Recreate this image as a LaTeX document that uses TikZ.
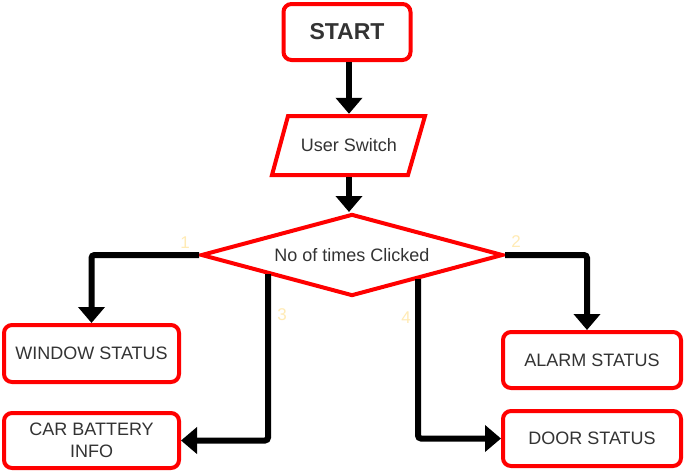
\documentclass[tikz,border=0pt]{standalone}
\usepackage{fontspec}
\setmainfont{Liberation Sans}
\usetikzlibrary{shapes.geometric,arrows.meta}
\definecolor{boxred}{HTML}{FF0000}
\definecolor{txt}{HTML}{333333}
\definecolor{lbl}{HTML}{FFEBB5}
\begin{document}
\begin{tikzpicture}[x=1pt,y=-1pt,
  boxst/.style={draw=boxred,line width=4pt,rounded corners=8pt,fill=white,text=txt,font=\fontsize{18}{21}\selectfont,align=center,inner sep=0pt},
  conn/.style={line width=6pt,black,rounded corners=3pt,-{Triangle[length=16pt,width=26pt]}},
  redline/.style={draw=boxred,line width=4pt,fill=white,line join=miter},
  numlbl/.style={text=lbl,font=\fontsize{17}{20}\selectfont,inner sep=0pt}]
\useasboundingbox (0,0) rectangle (686,475);
\fill[white] (0,0) rectangle (686,475);
% nodes
\node[boxst,minimum width=127pt,minimum height=56pt,font=\fontsize{23}{27}\selectfont\bfseries] (s) at (347,32) {START};
\draw[redline] (288,116) -- (425,116) -- (408,175) -- (272,175) -- cycle;
\node[text=txt,font=\fontsize{18}{21}\selectfont,minimum width=150pt,minimum height=63pt,inner sep=0pt] (u) at (349,145.5) {User Switch};
\node[diamond,aspect=3.64,draw=boxred,line width=4pt,fill=white,text=txt,font=\fontsize{18}{21}\selectfont,minimum width=302pt,minimum height=82pt,inner sep=0pt] (d) at (352,255) {No of times Clicked};
\node[boxst,minimum width=175pt,minimum height=57pt] (w) at (91.5,353.5) {WINDOW STATUS};
\node[boxst,minimum width=178pt,minimum height=56pt] (a) at (592,360) {ALARM STATUS};
\node[boxst,minimum width=175pt,minimum height=55pt] (cb) at (91.5,440.5) {CAR BATTERY\\[1pt]INFO};
\node[boxst,minimum width=178pt,minimum height=55pt] (dr) at (592,438.5) {DOOR STATUS};
% connectors
\draw[conn] (s.south -| u.north) -- (u.north);
\draw[conn] (u.south) -- (u.south |- d.north);
\draw[conn] (d.west) -| (w.north);
\draw[conn] (d.east) -| ([xshift=-5pt]a.north);
\coordinate (c3) at (268,274);
\coordinate (c4) at (418,279);
\draw[conn] (c3) |- (cb.east);
\draw[conn] (c4) |- (dr.west);
% labels
\node[numlbl] (l1) at (185,243) {1};
\node[numlbl] (l2) at (516,242) {2};
\node[numlbl] (l3) at (282,315) {3};
\node[numlbl] (l4) at (406,318) {4};
\end{tikzpicture}
\end{document}
